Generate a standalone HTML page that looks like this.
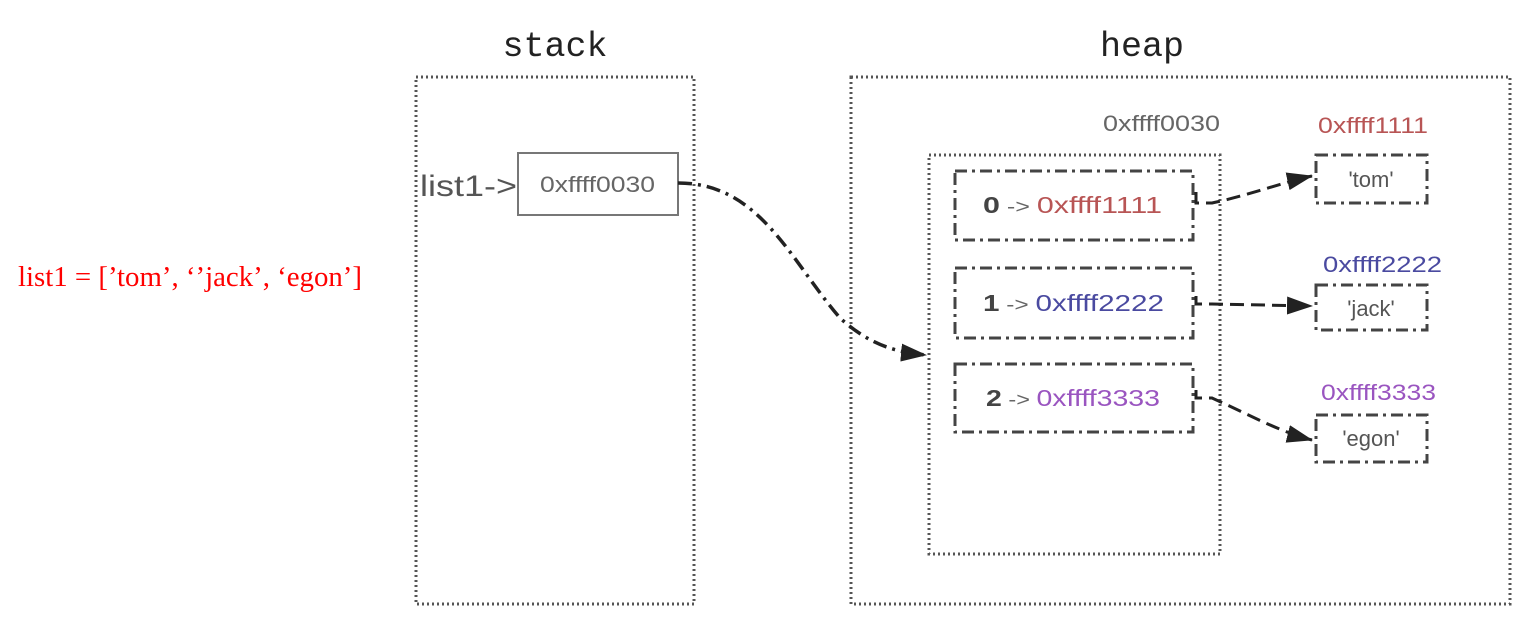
<!DOCTYPE html>
<html><head><style>body{margin:0;background:#fff}svg{display:block}</style></head><body>
<svg width="1524" height="618" viewBox="0 0 1524 618" xmlns="http://www.w3.org/2000/svg">
<defs>
<marker id="ah2" markerWidth="26" markerHeight="18" refX="25" refY="9" orient="auto" markerUnits="userSpaceOnUse" viewBox="0 0 26 18"><path d="M0,0 L26,9 L0,18 z" fill="#222"/></marker></defs>
<text x="555" y="56" font-family="Liberation Mono, monospace" font-size="35" text-anchor="middle" fill="#222">stack</text>
<text x="1142" y="56" font-family="Liberation Mono, monospace" font-size="35" text-anchor="middle" fill="#222">heap</text>
<g fill="none" stroke="#555" stroke-width="3" stroke-dasharray="2 3">
<rect x="416" y="77" width="278" height="527"/>
<rect x="851" y="77" width="659" height="527"/>
<rect x="929" y="155" width="291" height="399"/>
</g>
<text x="18" y="286" font-family="Liberation Serif, serif" font-size="28" fill="#f00" textLength="344" lengthAdjust="spacingAndGlyphs">list1 = [’tom’, ‘’jack’, ‘egon’]</text>
<text x="420" y="196" font-family="Liberation Sans, sans-serif" font-size="30" fill="#555" textLength="97" lengthAdjust="spacingAndGlyphs">list1-&gt;</text>
<rect x="518" y="153" width="160" height="62" fill="#fff" stroke="#777" stroke-width="2"/>
<text x="540" y="192" font-family="Liberation Sans, sans-serif" font-size="22" fill="#666" textLength="115" lengthAdjust="spacingAndGlyphs">0xffff0030</text>
<text x="1103" y="131" font-family="Liberation Sans, sans-serif" font-size="22" fill="#666" textLength="117" lengthAdjust="spacingAndGlyphs">0xffff0030</text>
<g fill="none" stroke="#444" stroke-width="3" stroke-dasharray="12 5 3 5">
<rect x="955" y="171" width="238" height="69"/>
<rect x="955" y="268" width="238" height="70"/>
<rect x="955" y="364" width="238" height="68"/>
<rect x="1316" y="155" width="111" height="48"/>
<rect x="1316" y="285" width="111" height="45"/>
<rect x="1316" y="415" width="111" height="47"/>
</g>
<g font-family="Liberation Sans, sans-serif" font-size="23">
<text x="983" y="213" textLength="179" lengthAdjust="spacingAndGlyphs"><tspan font-weight="bold" fill="#444">0</tspan><tspan fill="#666" font-size="19"> -&gt; </tspan><tspan fill="#b85555">0xffff1111</tspan></text>
<text x="983" y="311" textLength="181" lengthAdjust="spacingAndGlyphs"><tspan font-weight="bold" fill="#444">1</tspan><tspan fill="#666" font-size="19"> -&gt; </tspan><tspan fill="#4a4aa0">0xffff2222</tspan></text>
<text x="986" y="406" textLength="174" lengthAdjust="spacingAndGlyphs"><tspan font-weight="bold" fill="#444">2</tspan><tspan fill="#666" font-size="19"> -&gt; </tspan><tspan fill="#9a55c0">0xffff3333</tspan></text>
<text x="1318" y="133" fill="#b85555" font-size="22" textLength="110" lengthAdjust="spacingAndGlyphs">0xffff1111</text>
<text x="1323" y="272" fill="#4a4aa0" font-size="22" textLength="119" lengthAdjust="spacingAndGlyphs">0xffff2222</text>
<text x="1321" y="400" fill="#9a55c0" font-size="22" textLength="115" lengthAdjust="spacingAndGlyphs">0xffff3333</text>
<text x="1371" y="187" text-anchor="middle" fill="#555" font-size="22">'tom'</text>
<text x="1371" y="316" text-anchor="middle" fill="#555" font-size="22">'jack'</text>
<text x="1371" y="446" text-anchor="middle" fill="#555" font-size="22">'egon'</text>
</g>
<path d="M678,183 C760,183 790,260 840,318 C870,345 895,352 926,355" fill="none" stroke="#222" stroke-width="3.5" stroke-dasharray="14 6 3 6" marker-end="url(#ah2)"/>
<g fill="none" stroke="#222" stroke-width="3" stroke-dasharray="14 7" >
<path d="M1196,192 L1196,203 L1212,203 C1250,195 1280,183 1312,176" marker-end="url(#ah2)"/>
<path d="M1196,296 L1196,304 L1212,304 L1312,306" marker-end="url(#ah2)"/>
<path d="M1196,390 L1196,398 L1212,398 C1250,415 1280,432 1312,440" marker-end="url(#ah2)"/>
</g>
</svg>
</body></html>
